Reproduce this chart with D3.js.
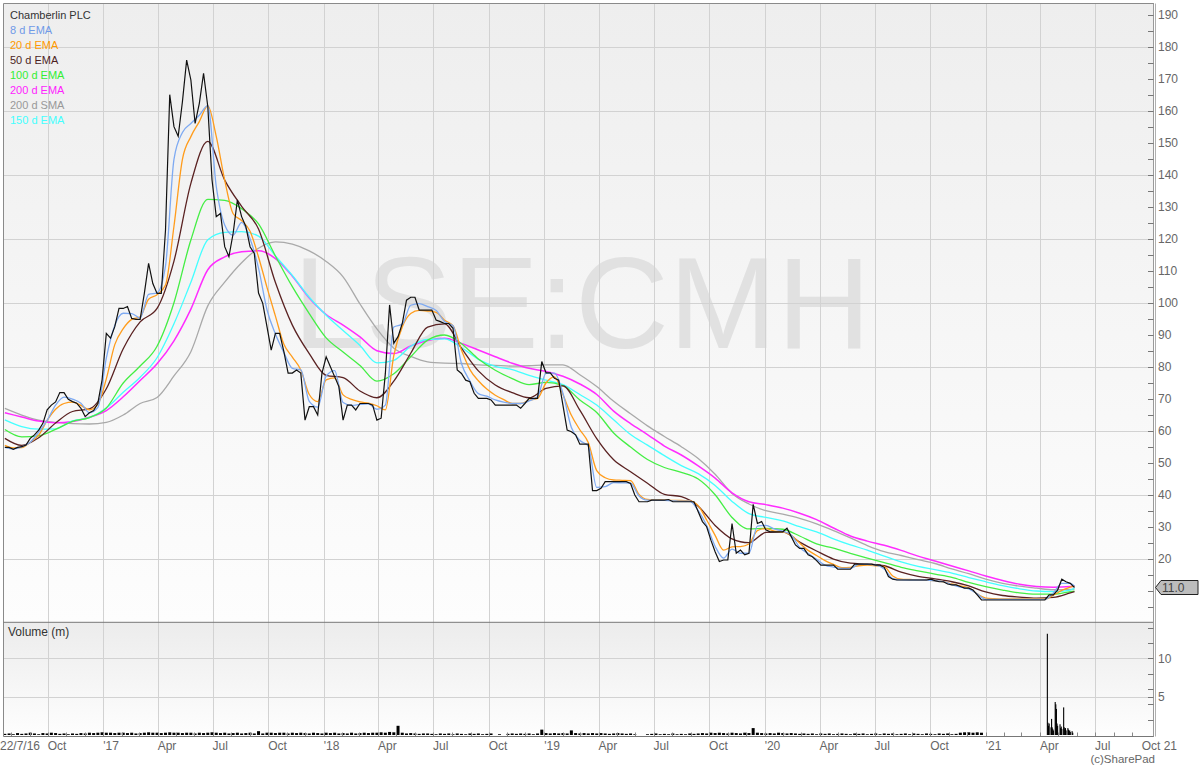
<!DOCTYPE html>
<html><head><meta charset="utf-8">
<script src="https://cdn.jsdelivr.net/npm/d3@7"></script>
<style>
body{margin:0;background:#fff}
svg{display:block}
text{font-family:"Liberation Sans",Arial,Helvetica,sans-serif}
</style>
</head><body>
<svg id="c" width="1200" height="768"></svg>
<script>
// ---------- DATA ----------
const title = "Chamberlin PLC";
const watermark = "LSE:CMH";
const startWeek = "2016-07-22";           // weekly samples start here
const lastWeekIndex = 253;
// weekly closing price (pence)
const price = [54.8,54.8,54.2,54.8,55,55.5,57.6,58.7,60.2,62.3,
66.5,68,69,71.9,71.9,69.8,69.1,68.6,67,64.4,
65.6,66.3,68.6,75.9,90.4,88.9,92.5,98.2,98.2,98.8,
95.1,94.8,94.8,103,112.3,106,102.9,102.9,122.7,165,
155,152,162.8,175.8,169.6,156,162.3,171.7,161.3,138.4,
126.9,127.9,117.5,114.4,121.7,132.1,126.9,123.8,117.5,115.4,
103,99.8,92.5,85.2,90.4,90.4,84.7,78,78,79,
78,63.3,67.5,67.5,64.9,77.9,83.1,80,76.9,73.8,
63.3,68,68,66.5,68.5,68.5,68.5,68,63.3,63.9,
77.9,99.3,87.3,89.4,93.5,100.8,101.7,101.7,97.7,97.7,
97.7,97.7,94.6,94.1,93.5,93.5,92,79,77.9,75.8,
75.3,71.7,70.1,70.1,70.1,69.6,68,68,68,68,
68,68,67,68.5,70.1,70.1,70.1,81.6,78.1,78.1,
76.4,75.8,68,60.2,59.7,58.7,55.8,55.8,55.8,41.3,
41.3,42,44.1,44.1,44.1,44.1,44.1,44.1,43.5,39.9,
37.8,37.8,37.8,38.3,38.3,38.3,38.3,38.5,37.8,37.8,
37.8,37.8,37.8,37.8,34.7,31.6,30,25.8,22.2,19.1,
19.6,19.6,31,21.7,22.7,21.2,21.7,37,31,31.6,
29,28.4,28.4,28.4,28.4,29.5,26.9,24.3,23.2,23.2,
21.2,20.6,19.4,18,18,18,18,16.7,16.7,16.7,
16.7,18.3,18.3,18.3,18.3,18.3,18,18,17.3,14.4,
13.6,13.35,13.35,13.35,13.35,13.35,13.35,13.35,13.35,13.6,
13.15,12.8,12.8,12.1,11.8,11.8,11.3,10.8,10.8,10.2,
8.7,7.1,7.1,7.1,7.1,7.1,7.1,7.1,7.1,7.1,
7.1,7.1,7.1,7.1,7.1,7.1,7.1,8.7,8.7,10.2,
13.6,12.8,12.3,11];
const lastPrice = 11.0;
// averages sampled every 2 weeks (last value = final week)
const ema8 = [54.8,54.3,54.9,56.4,59.5,63.2,68,70.5,69.9,68.6,
65.6,67.3,82.7,92.9,96.7,96.6,95.2,102.6,103.1,111.5,
144.8,153.2,156,158.6,161.6,136.4,124.3,121.1,125.1,120,
110.8,97.8,90.2,84.4,79.5,79,69.2,67.4,77.1,78.8,
68.8,67.9,68.2,68.4,66.7,68,92.4,93.3,99.2,99.7,
98.8,97.6,94.1,92.8,81,75.5,71.6,70.8,69.6,68.9,
68.5,68.5,69.3,70.6,77.9,78,71.7,61,57,55.2,
42.3,42.5,43.8,43.7,43.6,39.6,38.3,38.3,38.2,38.1,
38,38,35,30.4,23.9,20.2,23,21.7,21.7,30.2,
30.4,29.3,28.6,27.4,23.5,21.6,19.8,18,17.4,17,
17,18.2,18.2,18,16.8,13.8,13.4,13.35,13.35,13.35,
13.1,12.8,11.9,11.1,10.6,9,7.3,7.3,7.3,7.3,
7.3,7.3,7.3,7.3,9.3,12.3,12.3,11.5];
const ema20 = [55.4,54.6,54.7,56.4,58.6,63.2,66.7,68.5,68.9,67.9,
66.5,68.2,76.2,86.9,91.9,94.8,95.6,101.1,102.5,105.5,
123.9,144.8,151.9,156.6,161.5,152,138.3,127.8,125.7,122.3,
114.3,104.8,95.8,87,83,79,71.3,69.1,75.9,76.5,
71.2,69.8,69,68.6,67.8,66.5,83.5,92.4,96.6,97.6,
97.4,97,94.5,92.8,85.2,79.1,75.6,73,71.1,69.7,
68.5,68.5,69.5,70.1,74.9,76.8,71.3,64.8,60.3,56.3,
47.5,45.3,44.6,44.5,44.4,40.1,38.5,38.4,38.3,38.2,
38.2,38.1,36.6,32.1,27.3,22.7,23.7,23.8,24.6,28.8,
29.4,28.6,28.4,27.3,24.9,22.6,21,19.4,18.2,17.2,
17.3,17.8,18,17.8,17.5,14.6,13.6,13.5,13.4,13.35,
13.1,12.8,12.1,11.5,10.9,9,7.7,7.5,7.4,7.4,
7.4,7.4,7.4,7.4,8.6,10.1,11.1,11.5];
// averages sampled every 4 weeks (last value = final week)
const ema50 = [57.6,55.4,57.8,62.4,66,66.8,73.1,85.6,94,98.2,
113,137.3,150.4,138.3,130.1,123,106.3,93,84.1,77.3,
76.6,72.4,70.3,75.5,84.2,92.4,93.4,85.8,78.7,74.3,
71.9,70.3,73.2,74,66.4,57.5,50.9,47.2,43.6,40.1,
39.4,36.4,30.4,26.2,25,28.2,28.4,25.2,22.4,19.9,
18.6,18.3,17.8,15.8,14.5,13.7,12.8,11.5,9.6,8.5,
8,7.7,7.9,9.3,9.7];
const ema100 = [60.4,58.1,58.4,60.4,62.9,64.1,67.1,74.9,80.2,86.4,
100,119.6,132.3,132,129.4,124.6,114.6,105,96.6,89,
84.6,80.4,75.5,77.8,83.1,88.3,89.9,87.2,82.4,78.9,
76.3,74.4,75.1,74.1,69.6,65.7,59.3,54.9,51,48.5,
47,44.9,40,32.9,29.3,29.5,29.2,27.1,24.6,23.3,
21.7,20.2,18.8,17.3,16.2,15.2,14.2,12.6,11.3,10.2,
9.3,8.9,8.9,9.7,9.9];
const ema150 = [63.4,61.3,60.5,60.6,63.1,64.1,67.1,72,76.7,82.8,
93.4,106.4,119.7,122,122.2,120.8,114.6,108.5,101.7,96.1,
91.3,86.6,81.2,82,86.4,88.5,88.7,86,82.3,80.1,
79.1,77.3,75.8,74.4,71.3,68,63.4,58.8,55.5,52.2,
49.1,46.6,42.9,37.9,34.1,32.9,31.8,30,28.4,26.2,
24.3,22.7,20.8,19,17.6,16.6,15.5,14.1,12.8,11.6,
10.6,9.9,9.7,10.2,10.7];
const ema200 = [65.6,64.3,63,62.5,62.9,64.2,66.3,70.6,75.7,80.9,
88.1,98,110.3,114.3,115.9,116.2,113.8,108.3,101.5,96.3,
93,89.3,85,84.1,86.5,88.2,88.9,87.3,85.2,83.1,
81.1,79.5,78.5,77,74.6,71.3,66.1,62.2,58.8,55.2,
52.4,49,45.2,40.6,37.8,36.9,35.8,34.2,32.2,29.6,
27.1,25.5,24.2,22.6,20.8,19.3,17.7,16.2,14.6,13.2,
12,11.3,11.05,11.3,11.5];
const sma200 = [67,64.9,63.3,62.6,62.2,62.1,62.6,64.9,68.5,70.4,
77.1,84.7,99,106.4,112.5,117,119,118.3,116.2,112.9,
108.1,99.6,91.8,85.8,83.2,81.5,81.1,81,80.6,80.4,
80.2,80.3,80.6,80.6,77.5,73.8,69.2,65.3,61.5,58.2,
55,51.3,46.4,40.4,37.1,35,33.9,32.6,30.9,28.8,
26.5,24.1,22.2,21,19.7,18.5,16.8,15.3,13.6,12.3,
11.4,10.8,10.3,10.4,10.5];
// weekly volume (millions) up to early Apr 2021
const volumeWeekly = [0.15,0.2,0.1,0.25,0.15,0.2,0.3,0.2,0.1,0.25,
0.2,0.3,0.25,0.15,0.2,0.1,0.2,0.15,0.25,0.2,
0.3,0.25,0.3,0.35,0.3,0.3,0.25,0.3,0.3,0.25,
0.3,0.2,0.25,0.3,0.35,0.3,0.3,0.25,0.3,0.35,
0.3,0.3,0.25,0.3,0.3,0.2,0.3,0.25,0.3,0.35,
0.3,0.25,0.3,0.2,0.25,0.3,0.2,0.25,0.3,0.2,
0.5,0.2,0.3,0.3,0.25,0.3,0.3,0.2,0.3,0.25,
0.3,0.25,0.2,0.3,0.25,0.2,0.3,0.25,0.3,0.2,
0.25,0.2,0.3,0.2,0.25,0.3,0.25,0.3,0.3,0.35,
0.3,0.4,0.35,1.2,0.3,0.2,0.25,0.2,0.15,0.2,
0.2,0.15,0.1,0.2,0.15,0.2,0.1,0.2,0.15,0.1,
0.2,0.15,0.2,0.1,0.15,0.2,0,0.1,0,0.15,
0.2,0.15,0.2,0.15,0.2,0.1,0.2,0.7,0.25,0.2,
0.25,0.2,0.25,0.2,0.6,0.25,0.2,0.25,0.2,0.25,
0.2,0.25,0.2,0.15,0.2,0.25,0.2,0.15,0.2,0.1,
0,0,0.1,0.15,0.2,0.1,0.15,0.1,0.2,0.1,
0.15,0.1,0.2,0.15,0.2,0.25,0.2,0.3,0.25,0.3,
0.25,0.2,0.3,0.25,0.2,0.3,0.25,0.9,0.3,0.25,
0.2,0.25,0.2,0.3,0.25,0.2,0.25,0.2,0.15,0.2,
0.15,0.2,0.1,0.2,0.15,0.2,0.1,0.15,0.2,0.15,
0.1,0.2,0.15,0.2,0.1,0.15,0.2,0.1,0.2,0.15,
0.2,0.1,0.15,0.2,0.1,0.2,0.15,0.1,0.2,0.15,
0.1,0.2,0.15,0.2,0.1,0.15,0.3,0.35,0.35,0.3,
0.35,0.3,0,0,0,0,0,0,0,0,
0,0,0,0,0];
// daily volume, Apr-May 2021
const volumeDays = ["2021-04-13","2021-04-14","2021-04-15","2021-04-16","2021-04-19","2021-04-20","2021-04-21","2021-04-22","2021-04-23","2021-04-26",
"2021-04-27","2021-04-28","2021-04-29","2021-04-30","2021-05-04","2021-05-05","2021-05-06","2021-05-07","2021-05-10","2021-05-11",
"2021-05-12","2021-05-13","2021-05-14","2021-05-17","2021-05-18","2021-05-19","2021-05-20","2021-05-21","2021-05-24","2021-05-25"];
const volumeDaily = [13.2,1.6,1.2,1.5,1.0,2.1,1.0,0.8,0.6,4.3,
4.0,3.4,1.5,1.2,1.4,0.9,1.1,0.8,3.6,1.0,
0.7,0.9,0.6,0.9,0.7,0.5,0.6,0.4,0.5,0.3];
// x axis ticks
const xTickDates = ["2016-10-01","2017-01-01","2017-04-01","2017-07-01","2017-10-01","2018-01-01","2018-04-01","2018-07-01","2018-10-01",
"2019-01-01","2019-04-01","2019-07-01","2019-10-01","2020-01-01","2020-04-01","2020-07-01","2020-10-01","2021-01-01","2021-04-01","2021-07-01"];
const xTickLabels = ["Oct","'17","Apr","Jul","Oct","'18","Apr","Jul","Oct","'19","Apr","Jul","Oct","'20","Apr","Jul","Oct","'21","Apr","Jul"];
const xFirstLabel = "22/7/16";
const xLastLabel = "Oct 21";
const priceTickLabels = [20,30,40,50,60,70,80,90,100,110,120,130,140,150,160,170,180,190];
const volTickLabels = [5,10];
const legend = [
  {name:"8 d EMA", key:"ema8"},
  {name:"20 d EMA", key:"ema20"},
  {name:"50 d EMA", key:"ema50"},
  {name:"100 d EMA", key:"ema100"},
  {name:"200 d EMA", key:"ema200"},
  {name:"200 d SMA", key:"sma200"},
  {name:"150 d EMA", key:"ema150"}
];

// ---------- STYLE ----------
const lineColor = {price:"#111111", ema8:"#7eaaf2", ema20:"#ff9c1c", ema50:"#5a2222", ema100:"#44ee44", ema150:"#44ffff", ema200:"#ff2cff", sma200:"#a9a9a9"};
const textColor = {ema8:"#6f9ae8", ema20:"#ff9900", ema50:"#4d1f1f", ema100:"#33ee33", ema150:"#44ffff", ema200:"#ff22ff", sma200:"#999999"};

// ---------- LAYOUT ----------
const L = 3.5, R = 1154;
const pTop = 3.5, pBot = 622.3, vTop = 622.3, vBot = 736.5;

const svg = d3.select("#c");
const defs = svg.append("defs");
const g1 = defs.append("linearGradient").attr("id","gp").attr("x1",0).attr("y1",0).attr("x2",0).attr("y2",1);
g1.append("stop").attr("offset","0%").attr("stop-color","#eeeeee");
g1.append("stop").attr("offset","100%").attr("stop-color","#fdfdfd");
const g2 = defs.append("linearGradient").attr("id","gv").attr("x1",0).attr("y1",0).attr("x2",0).attr("y2",1);
g2.append("stop").attr("offset","0%").attr("stop-color","#ececec");
g2.append("stop").attr("offset","100%").attr("stop-color","#fefefe");
defs.append("clipPath").attr("id","cp").append("rect").attr("x",L).attr("y",pTop).attr("width",R-L).attr("height",pBot-pTop);

const parse = d3.utcParse("%Y-%m-%d");
const t0 = parse(startWeek);
const wk = i => d3.utcDay.offset(t0, 7*i);

const x = d3.scaleUtc().domain([parse("2017-01-01"), parse("2021-01-01")]).range([103.3, 985.7]);
const y = d3.scaleLinear().domain([0,190]).range([622.7,14.7]);
const yv = d3.scaleLinear().domain([0,10]).range([735,658.3]);

svg.append("rect").attr("x",L).attr("y",pTop).attr("width",R-L).attr("height",pBot-pTop).attr("fill","url(#gp)");
svg.append("rect").attr("x",L).attr("y",vTop).attr("width",R-L).attr("height",vBot-vTop).attr("fill","url(#gv)");

// watermark
svg.append("text").attr("x",582).attr("y",348).attr("text-anchor","middle")
  .attr("font-size",130).attr("fill","#e1e1e1").text(watermark);

// grid
const grid = svg.append("g").attr("stroke","#d2d2d2").attr("stroke-width",1);
xTickDates.forEach(s=>{
  const xx = Math.round(x(parse(s)))+0.5;
  grid.append("line").attr("x1",xx).attr("x2",xx).attr("y1",pTop).attr("y2",vBot);
});
[20,40,60,80,100,120,140,160,180].forEach(v=>{
  const yy = Math.round(y(v))+0.5;
  grid.append("line").attr("x1",L).attr("x2",R).attr("y1",yy).attr("y2",yy);
});
[5,10].forEach(v=>{
  const yy = Math.round(yv(v))+0.5;
  grid.append("line").attr("x1",L).attr("x2",R).attr("y1",yy).attr("y2",yy);
});

// series
const mk = (arr, step) => arr.map((v,k)=>({d: wk(Math.min(k*step, lastWeekIndex)), v}));
const series = {
  sma200: mk(sma200,4), ema200: mk(ema200,4), ema150: mk(ema150,4), ema100: mk(ema100,4),
  ema50: mk(ema50,4), ema20: mk(ema20,2), ema8: mk(ema8,2), price: mk(price,1)
};
const line = d3.line().x(d=>x(d.d)).y(d=>y(d.v)).curve(d3.curveMonotoneX);
const lineP = d3.line().x(d=>x(d.d)).y(d=>y(d.v));
const lg = svg.append("g").attr("clip-path","url(#cp)").attr("fill","none");
["sma200","ema200","ema150","ema100","ema50","ema20","ema8"].forEach(k=>{
  lg.append("path").attr("d", line(series[k])).attr("stroke", lineColor[k]).attr("stroke-width", k==="ema200"?1.5:1.3);
});
lg.append("path").attr("d", lineP(series.price)).attr("stroke", lineColor.price).attr("stroke-width",1.2);

// volume bars
const vb = svg.append("g").attr("fill","#000");
volumeWeekly.forEach((v,i)=>{
  if (v<=0) return;
  const xx = x(wk(i));
  vb.append("rect").attr("x",xx-1.5).attr("width",3).attr("y",yv(v)).attr("height",yv(0)-yv(v));
});
volumeDaily.forEach((v,i)=>{
  const xx = x(parse(volumeDays[i]));
  vb.append("rect").attr("x",xx-0.5).attr("width",1.1).attr("y",yv(v)).attr("height",yv(0)-yv(v));
});

// monthly ticks at bottom
const months = d3.utcMonth.range(parse("2016-08-01"), parse("2021-10-01"));
const mt = svg.append("g").attr("stroke","#888");
months.forEach(m=>{
  const xx = Math.round(x(m))+0.5;
  mt.append("line").attr("x1",xx).attr("x2",xx).attr("y1",vBot-4).attr("y2",vBot);
});

// frame
const fr = svg.append("g").attr("stroke","#8a8a8a").attr("fill","none");
fr.append("line").attr("x1",L).attr("x2",R).attr("y1",pTop).attr("y2",pTop);
fr.append("line").attr("x1",L).attr("x2",L).attr("y1",pTop).attr("y2",vBot);
fr.append("line").attr("x1",L).attr("x2",R).attr("y1",pBot).attr("y2",pBot).attr("stroke","#777");
fr.append("line").attr("x1",L).attr("x2",R).attr("y1",vBot).attr("y2",vBot).attr("stroke","#777");
fr.append("line").attr("x1",1153.5).attr("x2",1153.5).attr("y1",pTop).attr("y2",vBot).attr("stroke","#9a9a9a");
fr.append("line").attr("x1",1155.5).attr("x2",1155.5).attr("y1",pTop).attr("y2",vBot).attr("stroke","#b0b0b0");

// right axis ticks & labels
const ax = svg.append("g");
d3.range(5,195,5).forEach(v=>{
  const yy = Math.round(y(v))+0.5;
  ax.append("line").attr("x1",1148).attr("x2",1153.5).attr("y1",yy).attr("y2",yy).attr("stroke","#777");
});
priceTickLabels.forEach(v=>{
  ax.append("text").attr("x",1158).attr("y",y(v)).attr("dy","0.36em").attr("font-size",12).attr("fill","#666").text(v);
});
[2,4,5,6,8,10,12,14].forEach(v=>{
  const yy = Math.round(yv(v))+0.5;
  ax.append("line").attr("x1",1148).attr("x2",1153.5).attr("y1",yy).attr("y2",yy).attr("stroke","#777");
});
volTickLabels.forEach(v=>{
  ax.append("text").attr("x",1158).attr("y",yv(v)).attr("dy","0.36em").attr("font-size",12).attr("fill","#666").text(v);
});

// last price marker
const ly = y(lastPrice);
svg.append("path").attr("d",`M1155.5,${ly} L1161,${ly-7} L1198,${ly-7} L1198,${ly+7} L1161,${ly+7} Z`)
  .attr("fill","#bdbdbd").attr("stroke","#222").attr("stroke-width",1);
svg.append("text").attr("x",1162).attr("y",ly).attr("dy","0.36em").attr("font-size",12).attr("fill","#444").text(lastPrice.toFixed(1));

// bottom labels
const bl = svg.append("g").attr("font-size",12).attr("fill","#666");
bl.append("text").attr("x",0).attr("y",749.5).text(xFirstLabel);
xTickDates.forEach((s,i)=>{
  bl.append("text").attr("x",x(parse(s))).attr("y",749.5).text(xTickLabels[i]);
});
bl.append("text").attr("x",1177).attr("y",749.5).attr("text-anchor","end").text(xLastLabel);
bl.append("text").attr("x",1155).attr("y",763).attr("font-size",11.5).attr("text-anchor","end").text("(c)SharePad");

// legend
const lgd = svg.append("g").attr("font-size",11);
lgd.append("text").attr("x",10).attr("y",18.5).attr("fill","#333").text(title);
legend.forEach((l,i)=>{
  lgd.append("text").attr("x",10).attr("y",33.5+15*i).attr("fill",textColor[l.key]).text(l.name);
});
svg.append("text").attr("x",8).attr("y",635.5).attr("font-size",12).attr("fill","#333").text("Volume (m)");
</script>
</body></html>
